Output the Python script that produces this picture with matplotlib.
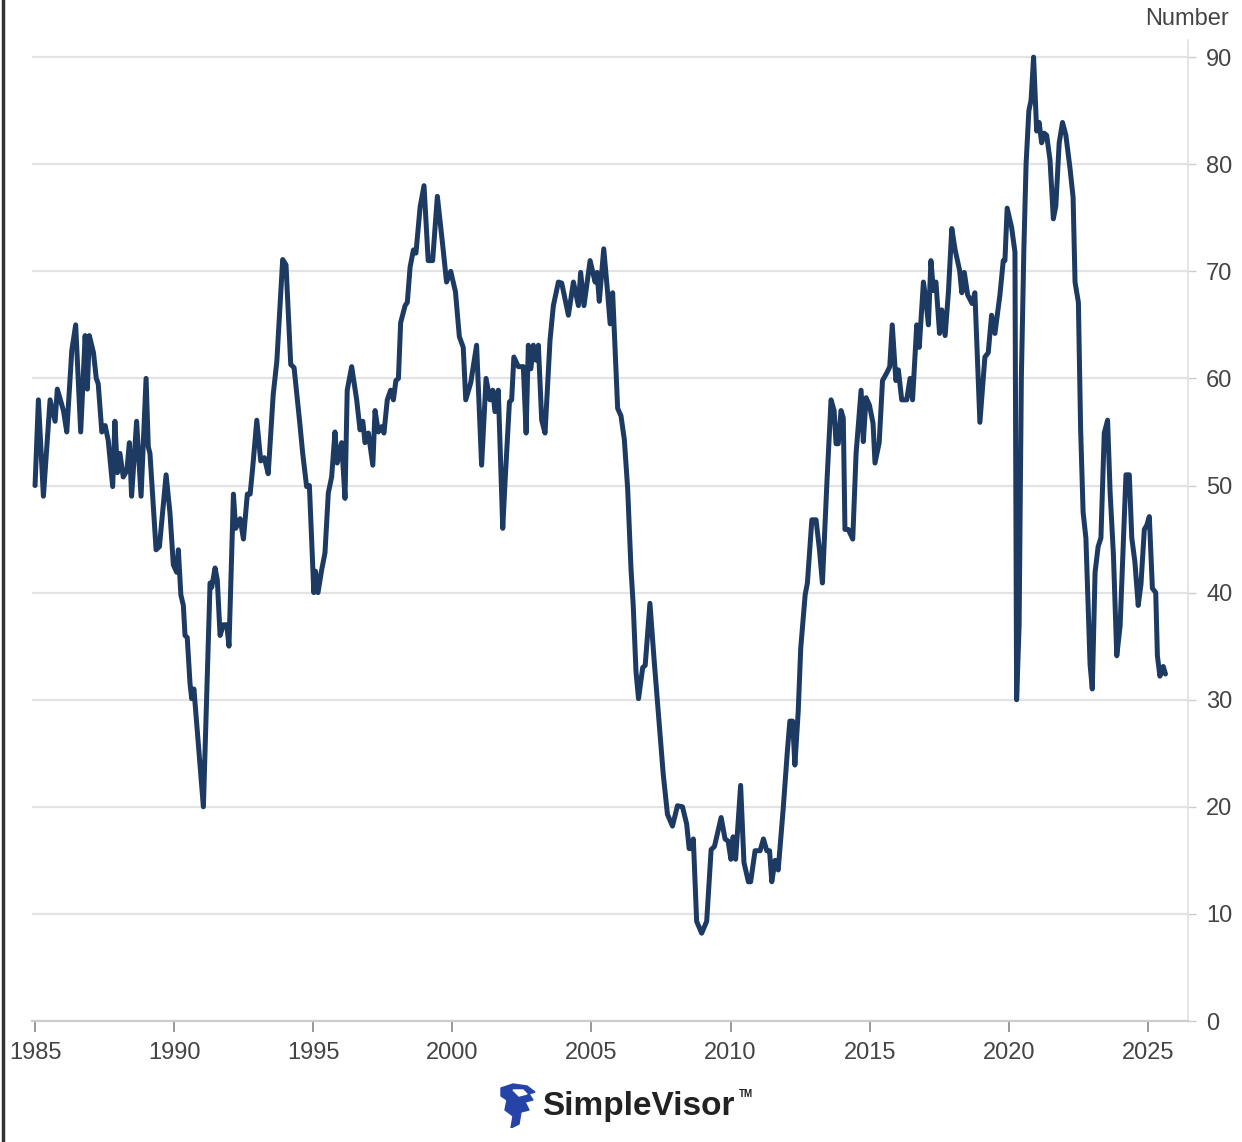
import numpy as np
import matplotlib
matplotlib.use("Agg")
import matplotlib.pyplot as plt
from matplotlib.patches import Polygon

plt.rcParams['font.family'] = ['Liberation Sans Narrow', 'Liberation Sans', 'DejaVu Sans']

# readings: decimal year, index value
dates = [
    1985.00, 1985.12, 1985.30, 1985.54, 1985.72, 1985.80, 1986.02, 1986.14, 1986.32, 1986.46,
    1986.64, 1986.80, 1986.88, 1986.95, 1987.10, 1987.20, 1987.27, 1987.40, 1987.52, 1987.63,
    1987.79, 1987.87, 1987.96, 1988.05, 1988.17, 1988.30, 1988.39, 1988.47, 1988.65, 1988.81,
    1988.99, 1989.07, 1989.13, 1989.35, 1989.47, 1989.71, 1989.85, 1989.97, 1990.09, 1990.15,
    1990.24, 1990.33, 1990.39, 1990.47, 1990.57, 1990.63, 1990.71, 1991.05, 1991.29, 1991.35,
    1991.47, 1991.55, 1991.65, 1991.77, 1991.89, 1991.97, 1992.13, 1992.21, 1992.37, 1992.49,
    1992.63, 1992.73, 1992.82, 1992.97, 1993.11, 1993.24, 1993.38, 1993.56, 1993.69, 1993.90,
    1994.02, 1994.19, 1994.31, 1994.52, 1994.62, 1994.76, 1994.86, 1995.02, 1995.08, 1995.17,
    1995.30, 1995.42, 1995.54, 1995.66, 1995.78, 1995.86, 1996.02, 1996.14, 1996.22, 1996.38,
    1996.56, 1996.68, 1996.78, 1996.86, 1996.98, 1997.14, 1997.22, 1997.34, 1997.46, 1997.54,
    1997.66, 1997.78, 1997.88, 1997.97, 1998.06, 1998.14, 1998.30, 1998.38, 1998.48, 1998.60,
    1998.69, 1998.84, 1998.98, 1999.13, 1999.29, 1999.46, 1999.67, 1999.79, 1999.94, 2000.11,
    2000.25, 2000.39, 2000.48, 2000.66, 2000.87, 2001.05, 2001.21, 2001.35, 2001.45, 2001.53,
    2001.65, 2001.81, 2001.89, 2002.05, 2002.13, 2002.21, 2002.37, 2002.55, 2002.65, 2002.73,
    2002.82, 2002.91, 2003.01, 2003.09, 2003.21, 2003.33, 2003.51, 2003.63, 2003.81, 2003.93,
    2004.17, 2004.35, 2004.53, 2004.61, 2004.73, 2004.95, 2005.13, 2005.20, 2005.28, 2005.44,
    2005.58, 2005.67, 2005.76, 2005.94, 2006.06, 2006.18, 2006.30, 2006.42, 2006.50, 2006.60,
    2006.69, 2006.84, 2006.93, 2007.10, 2007.26, 2007.44, 2007.58, 2007.73, 2007.91, 2008.09,
    2008.27, 2008.42, 2008.51, 2008.60, 2008.66, 2008.78, 2008.96, 2009.14, 2009.30, 2009.42,
    2009.66, 2009.80, 2009.91, 2010.01, 2010.09, 2010.18, 2010.36, 2010.48, 2010.64, 2010.72,
    2010.88, 2011.06, 2011.18, 2011.30, 2011.40, 2011.48, 2011.60, 2011.71, 2011.89, 2012.04,
    2012.13, 2012.23, 2012.31, 2012.43, 2012.52, 2012.68, 2012.76, 2012.92, 2013.07, 2013.19,
    2013.30, 2013.46, 2013.61, 2013.72, 2013.79, 2013.87, 2013.97, 2014.05, 2014.11, 2014.23,
    2014.39, 2014.51, 2014.69, 2014.77, 2014.87, 2014.99, 2015.12, 2015.19, 2015.34, 2015.46,
    2015.61, 2015.72, 2015.81, 2015.94, 2016.03, 2016.15, 2016.33, 2016.45, 2016.54, 2016.69,
    2016.78, 2016.93, 2017.02, 2017.11, 2017.20, 2017.29, 2017.38, 2017.51, 2017.59, 2017.71,
    2017.83, 2017.95, 2018.07, 2018.23, 2018.31, 2018.40, 2018.52, 2018.68, 2018.78, 2018.96,
    2019.14, 2019.26, 2019.38, 2019.50, 2019.68, 2019.80, 2019.86, 2019.94, 2020.10, 2020.22,
    2020.28, 2020.37, 2020.45, 2020.54, 2020.62, 2020.72, 2020.80, 2020.89, 2021.00, 2021.09,
    2021.18, 2021.27, 2021.36, 2021.48, 2021.60, 2021.69, 2021.81, 2021.93, 2022.05, 2022.20,
    2022.31, 2022.38, 2022.50, 2022.58, 2022.67, 2022.77, 2022.84, 2022.92, 2023.00, 2023.10,
    2023.21, 2023.31, 2023.43, 2023.55, 2023.64, 2023.76, 2023.88, 2024.00, 2024.12, 2024.21,
    2024.33, 2024.42, 2024.53, 2024.65, 2024.75, 2024.87, 2024.96, 2025.05, 2025.16, 2025.28,
    2025.34, 2025.43, 2025.55, 2025.63,
]
values = [
    50, 58, 49, 58, 56, 59, 57, 55, 62.6, 65,
    55, 64, 59, 64, 62.4, 60, 59.5, 55, 55.6, 54.2,
    49.9, 56, 51.2, 53, 50.8, 51.4, 54, 49, 56, 49,
    60, 53.6, 53, 44, 44.3, 51, 47.4, 42.6, 41.9, 44,
    39.8, 38.8, 36, 35.8, 31.5, 30.1, 31, 20, 40.9, 40.5,
    42.3, 41.2, 36, 37, 37, 35, 49.2, 46, 46.9, 45,
    49.2, 49.2, 51.6, 56.1, 52.3, 52.6, 51.1, 58.5, 61.6, 71.1,
    70.6, 61.3, 61, 55.7, 53, 49.9, 50, 40, 42, 40,
    42.1, 43.7, 49.3, 50.8, 55, 52.1, 54, 48.8, 58.9, 61.1,
    58, 55.2, 56, 54, 54.9, 51.9, 57, 55, 55.5, 54.9,
    58, 58.9, 58, 59.8, 60, 65.2, 66.8, 67.1, 70.4, 72,
    71.7, 76, 78, 71, 71, 77, 72, 69, 70, 68.1,
    63.9, 62.9, 58, 59.6, 63.1, 51.9, 60, 58, 58.9, 56.9,
    58.9, 46, 50.2, 57.8, 58, 62, 61.1, 61.1, 54.9, 63.1,
    60.9, 63.1, 61.7, 63.1, 56.1, 54.9, 63.6, 66.8, 69, 68.9,
    65.9, 69, 66.8, 69.9, 66.8, 71, 69, 69.9, 67.2, 72.1,
    68, 65.1, 68, 57.2, 56.5, 54.3, 49.7, 42.2, 38.8, 32.6,
    30.1, 33, 33.2, 39, 33.4, 27.6, 23, 19.3, 18.2, 20.1,
    20, 18.4, 16.1, 16.1, 17, 9.3, 8.2, 9.3, 16, 16.3,
    19, 17, 16.8, 15.1, 17.2, 15.1, 22, 14.8, 13, 13,
    15.9, 15.9, 17, 15.9, 15.9, 13, 15, 14.1, 19.8, 25.2,
    28, 28, 23.9, 28.9, 34.8, 39.8, 40.9, 46.8, 46.8, 44.1,
    40.9, 50.2, 58, 57, 53.9, 53.9, 57, 56.3, 45.9, 45.9,
    45, 53, 58.9, 54.1, 58.2, 57.5, 55.8, 52.1, 54, 59.8,
    60.5, 61.1, 65, 59.8, 60.8, 58, 58, 60, 58, 65,
    62.9, 69, 67.3, 65, 71, 68.2, 69, 64.2, 66.4, 64,
    68.1, 74, 72, 70.1, 68, 69.9, 67.8, 67, 68, 55.9,
    62, 62.4, 65.9, 64.2, 67.8, 71, 71, 75.9, 74.1, 71.8,
    30, 37, 60, 72, 80, 85, 86, 90, 83.1, 83.9,
    82, 82.9, 82.7, 80.4, 74.9, 76.1, 82, 83.9, 82.7, 79.6,
    76.9, 69, 67.1, 55.3, 47.5, 45.1, 39.6, 33.3, 31, 41.9,
    44.3, 45.1, 54.9, 56.1, 49.4, 43.5, 34.1, 36.9, 45.1, 51,
    51, 45.1, 42.9, 38.8, 40.8, 45.9, 46.3, 47.1, 40.4, 40,
    34.1, 32.2, 33.1, 32.4,
]

x_ticks = [1985, 1990, 1995, 2000, 2005, 2010, 2015, 2020, 2025]
y_ticks = [0, 10, 20, 30, 40, 50, 60, 70, 80, 90]

W, H = 1242, 1142
fig = plt.figure(figsize=(W / 100, H / 100), dpi=100)
ax = fig.add_axes([32 / W, 1 - 1021 / H, (1188 - 32) / W, (1021 - 40) / H])

ax.plot(dates, values, color='#1d3a63', lw=3.6, solid_joinstyle='round',
        solid_capstyle='round', zorder=3)

ax.set_xlim(1984.89, 2026.44)
ax.set_ylim(0, 91.6)
ax.set_xticks(x_ticks)
ax.set_yticks(y_ticks)
ax.yaxis.tick_right()
ax.grid(axis='y', color='#e3e3e3', lw=1.6, zorder=0)
ax.tick_params(axis='y', length=6, width=1, color='#cccccc', labelsize=17,
               labelcolor='#444444', pad=7)
ax.tick_params(axis='x', length=8, width=1.2, color='#888888', labelsize=17,
               labelcolor='#444444', pad=7)

for s in ['top', 'left']:
    ax.spines[s].set_visible(False)
ax.spines['right'].set_color('#e0e0e0')
ax.spines['right'].set_linewidth(1.2)
ax.spines['bottom'].set_color('#cccccc')
ax.spines['bottom'].set_linewidth(1.5)

fig.text(1229 / W, 1 - 19 / H, 'Number', ha='right', va='center', fontsize=17, color='#444444')

# left border of the screenshot
fig.add_artist(plt.Line2D([3 / W, 3 / W], [0, 1], color='#333333', lw=2.5))

# logo
fig.text(542 / W, 1 - 1106 / H, 'SimpleVisor', ha='left', va='center', fontsize=24,
         fontweight='bold', color='#222222', family=['Liberation Sans', 'DejaVu Sans'])
fig.text(739 / W, 1 - 1094 / H, 'TM', ha='left', va='center', fontsize=7,
         fontweight='bold', color='#222222', family=['Liberation Sans', 'DejaVu Sans'])
icon = fig.add_axes([499 / W, 1 - 1128 / H, 38 / W, 46 / H])
icon.set_xlim(0, 38)
icon.set_ylim(0, 46)
icon.axis('off')
icon.add_patch(Polygon([(2, 40), (14, 44), (28, 42), (36, 36), (30, 34), (34, 28), (26, 26),
                        (30, 18), (22, 16), (20, 4), (12, 0), (14, 12), (6, 18), (8, 28), (2, 32)],
                       closed=True, color='#2643a8'))
icon.add_patch(Polygon([(14, 38), (24, 38), (28, 34), (20, 32)], closed=True, color='#ffffff'))

fig.savefig('out.png', dpi=100)
